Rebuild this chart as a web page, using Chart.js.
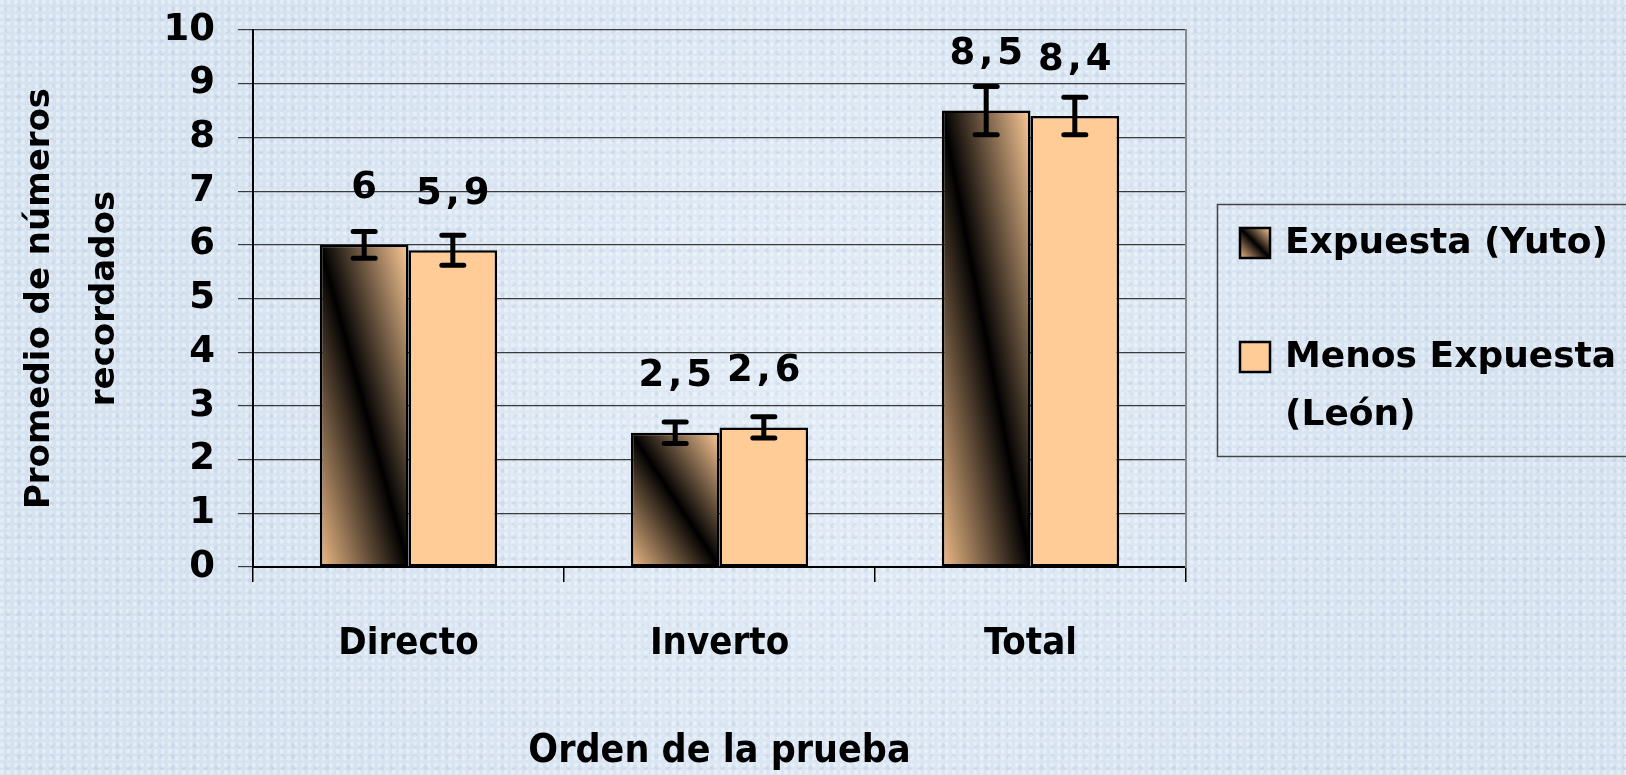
<!DOCTYPE html>
<html>
<head>
<meta charset="utf-8">
<script src="https://cdn.jsdelivr.net/npm/chart.js@4.4.1/dist/chart.umd.min.js"></script>
<style>
  html, body { margin: 0; padding: 0; }
  body {
    width: 1626px; height: 775px; overflow: hidden;
    background-color: #d9e6f3;
    background-image:
      radial-gradient(circle at 20% 30%, rgba(255,255,255,0.35) 0 2px, rgba(255,255,255,0) 3px),
      radial-gradient(circle at 70% 80%, rgba(170,185,210,0.25) 0 2px, rgba(170,185,210,0) 3px),
      radial-gradient(circle at 50% 50%, #e2ecf7 0, #d5e2f0 70%);
    background-size: 7px 7px, 11px 11px, 100% 100%;
  }
  canvas { display: block; }
</style>
</head>
<body>
<canvas id="grafico" width="1626" height="775"></canvas>
<script>
// datos
const categorias = ['Directo', 'Inverto', 'Total'];
const yuto = [6, 2.5, 8.5];
const leon = [5.9, 2.6, 8.4];
const yutoErr = [0.25, 0.2, 0.45];
const leonErr = [0.28, 0.2, 0.35];
const yTicks = [0, 1, 2, 3, 4, 5, 6, 7, 8, 9, 10];
const nombres = ['Expuesta (Yuto)', ['Menos Expuesta', '(León)']];

const CAT_PCT = 0.57;
const fuente = "'DejaVu Sans', sans-serif";
const fuenteCond = "'DejaVu Sans Condensed', 'DejaVu Sans', sans-serif";
const melocoton = '#ffcb97';

// degradado diagonal (banda negra de arriba-izq a abajo-der)
function degradado(c, left, top, w, h) {
  const L = Math.hypot(w, h);
  const nx = h / L, ny = -w / L;
  const d = w * h / L;
  const cx = left + w / 2, cy = top + h / 2;
  const g = c.createLinearGradient(cx - nx * d, cy - ny * d, cx + nx * d, cy + ny * d);
  g.addColorStop(0, '#efbb88');
  g.addColorStop(0.5, '#000000');
  g.addColorStop(1, '#fdca97');
  return g;
}

function rellenoYuto(ctx) {
  const chart = ctx.chart;
  if (ctx.type !== 'data' || !chart.scales.x || !chart.chartArea) return '#c89a6c';
  const xs = chart.scales.x, ys = chart.scales.y;
  const i = ctx.dataIndex;
  const w = xs.width / categorias.length * CAT_PCT / 2;
  const right = xs.getPixelForValue(i);
  const top = ys.getPixelForValue(yuto[i]);
  const bottom = ys.getPixelForValue(0);
  return degradado(chart.ctx, right - w, top, w, bottom - top);
}

const barrasError = {
  id: 'barrasError',
  afterDatasetsDraw(chart) {
    const c = chart.ctx;
    const ys = chart.scales.y;
    [yutoErr, leonErr].forEach((errs, di) => {
      const vals = chart.data.datasets[di].data;
      chart.getDatasetMeta(di).data.forEach((bar, i) => {
        const hi = ys.getPixelForValue(vals[i] + errs[i]);
        const lo = ys.getPixelForValue(vals[i] - errs[i]);
        c.save();
        c.strokeStyle = '#000';
        c.lineWidth = 5;
        c.lineCap = 'round';
        c.beginPath();
        c.moveTo(bar.x, hi); c.lineTo(bar.x, lo);
        c.moveTo(bar.x - 11, hi); c.lineTo(bar.x + 11, hi);
        c.moveTo(bar.x - 11, lo); c.lineTo(bar.x + 11, lo);
        c.stroke();
        c.restore();
      });
    });
    // etiquetas de valor
    chart.data.datasets.forEach((ds, di) => {
      chart.getDatasetMeta(di).data.forEach((bar, i) => {
        c.save();
        c.font = 'bold 37px ' + fuente;
        c.letterSpacing = '4px';
        c.fillStyle = '#000';
        c.textAlign = 'center';
        c.textBaseline = 'middle';
        c.fillText(String(ds.data[i]).replace('.', ','), bar.x + 2, bar.y - 56);
        c.restore();
      });
    });
  }
};

const leyenda = {
  id: 'leyenda',
  afterDraw(chart) {
    const c = chart.ctx;
    c.save();
    c.strokeStyle = '#444';
    c.lineWidth = 1.5;
    c.strokeRect(1217.5, 204.5, 430, 252);
    // muestras
    c.fillStyle = degradado(c, 1240, 228, 30, 30);
    c.fillRect(1240, 228, 30, 30);
    c.lineWidth = 2.5;
    c.strokeStyle = '#000';
    c.strokeRect(1240, 228, 30, 30);
    c.fillStyle = melocoton;
    c.fillRect(1240, 342, 30, 30);
    c.strokeRect(1240, 342, 30, 30);
    c.fillStyle = '#000';
    c.font = 'bold 36px ' + fuente;
    c.textBaseline = 'middle';
    c.textAlign = 'left';
    c.fillText(nombres[0], 1285, 244);
    c.fillText(nombres[1][0], 1285, 358);
    c.fillText(nombres[1][1], 1285, 416);
    c.restore();
  }
};

new Chart(document.getElementById('grafico'), {
  type: 'bar',
  data: {
    labels: categorias,
    datasets: [
      { label: 'Expuesta (Yuto)', data: yuto, backgroundColor: rellenoYuto,
        borderColor: '#000', borderWidth: 2.5, borderSkipped: false },
      { label: 'Menos Expuesta (León)', data: leon, backgroundColor: melocoton,
        borderColor: '#000', borderWidth: 2.5, borderSkipped: false }
    ]
  },
  options: {
    responsive: false,
    animation: false,
    events: [],
    layout: { padding: { top: 30, right: 440, left: 0, bottom: 0 } },
    datasets: { bar: { categoryPercentage: CAT_PCT, barPercentage: 1 } },
    plugins: { legend: { display: false }, tooltip: { enabled: false } },
    scales: {
      x: {
        grid: { offset: true, drawOnChartArea: false, color: '#000', lineWidth: 1.5, tickLength: 15 },
        border: { color: '#000', width: 2 },
        ticks: { color: '#000', padding: 39, font: { family: fuenteCond, size: 38, weight: 'bold' } },
        title: { display: true, text: 'Orden de la prueba', color: '#000',
          font: { family: fuenteCond, size: 39, weight: 'bold' }, padding: { top: 0, bottom: 0 } },
        afterFit(s) { s.height = 208; s.paddingLeft = 0; s.paddingRight = 0; }
      },
      y: {
        min: 0, max: 10,
        afterBuildTicks(s) { s.ticks = yTicks.map(v => ({ value: v })); },
        grid: { color: '#3a3a3a', lineWidth: 1.2, tickLength: 15 },
        border: { color: '#000', width: 2 },
        ticks: { color: '#000', padding: 23, font: { family: fuente, size: 37, weight: 'bold' } },
        title: { display: true, text: ['Promedio de números', 'recordados'], color: '#000',
          font: { family: fuente, size: 34, weight: 'bold', lineHeight: 1.9 }, padding: { top: 8, bottom: 0 } },
        afterFit(s) { s.width = 253; s.paddingTop = 0; s.paddingBottom = 0; }
      },
      y2: {
        position: 'right', min: 0, max: 10,
        grid: { display: false },
        ticks: { display: false },
        border: { color: '#888', width: 2 },
        afterFit(s) { s.width = 0; s.paddingTop = 0; s.paddingBottom = 0; }
      }
    }
  },
  plugins: [barrasError, leyenda]
});
</script>
</body>
</html>
